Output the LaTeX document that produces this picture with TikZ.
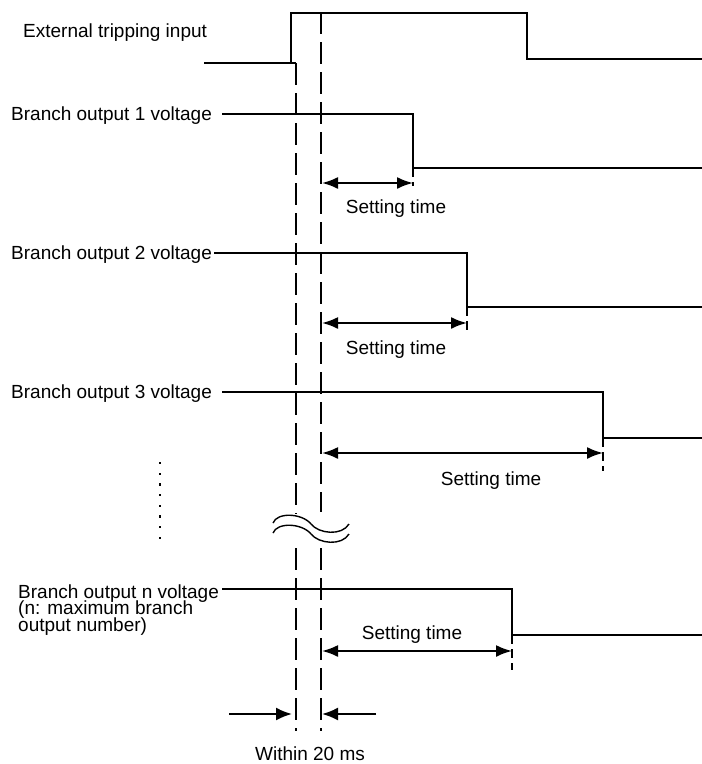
\documentclass[tikz,border=0pt]{standalone}
\usepackage{fontspec}
\setmainfont{Liberation Sans}
\usetikzlibrary{arrows.meta}
\tikzset{
  sig/.style={line width=1.4pt, line cap=butt, line join=miter},
  guide/.style={line width=1.5pt, dash pattern=on 22pt off 8pt},
  tickdash/.style={line width=1.4pt, dash pattern=on 9pt off 5pt},
  dim/.style={line width=2pt, {Latex[length=16pt,width=12pt]}-{Latex[length=16pt,width=12pt]}},
  dimr/.style={line width=2pt, -{Latex[length=16pt,width=13pt]}},
  lbl/.style={font=\fontsize{19}{20}\selectfont, inner sep=0pt, anchor=base west},
  clbl/.style={font=\fontsize{19}{20}\selectfont, inner sep=0pt, anchor=base},
}
\begin{document}
\begin{tikzpicture}[x=1pt,y=-1pt]
\useasboundingbox (0,0) rectangle (702,764);
% labels
\node[lbl] (ext) at (23,37.5) {External tripping input};
\node[lbl] (b1) at (11,120) {Branch output 1 voltage};
\node[lbl] (b2) at (11,259.5) {Branch output 2 voltage};
\node[lbl] (b3) at (11,398.5) {Branch output 3 voltage};
\node[lbl] (bnA) at (18,598) {Branch output n voltage};
\node[lbl] (bnB) at (18,614.8) {(n: maximum branch};
\node[lbl] (bnC) at (18,631.6) {output number)};
% external tripping input
\draw[sig] (204,63) -- (296,63);
\draw[sig] (291,63) -- (291,13) -- (527,13) -- (527,59) -- (702,59);
% branch 1
\draw[sig] (222,114) -- (413,114) -- (413,168) -- (702,168);
\draw[tickdash] (413,168) -- (413,186);
% branch 2
\draw[sig] (214,253) -- (467,253) -- (467,307) -- (702,307);
\draw[tickdash] (467,307) -- (467,334);
% branch 3
\draw[sig] (222,392) -- (603,392) -- (603,438) -- (702,438);
\draw[tickdash] (603,438) -- (603,471);
% branch n
\draw[sig] (222,589) -- (512,589) -- (512,635) -- (702,635);
\draw[tickdash] (512,635) -- (512,670);
% guide lines
\coordinate (g1a) at (296,63);
\coordinate (g1b) at (296,514);
\coordinate (g1c) at (296,548);
\coordinate (g1d) at (296,731);
\coordinate (g2a) at (321,12);
\coordinate (g2b) at (321,512);
\coordinate (g2c) at (321,548);
\coordinate (g2d) at (321,731);
\draw[guide] (g1a) -- (g1b);
\draw[guide] (g1c) -- (g1d);
\draw[guide] (g2a) -- (g2b);
\draw[guide] (g2c) -- (g2d);
% break symbol
\draw[line width=1.4pt] (273,523) .. controls (277,512) and (302,513) .. (311,524) .. controls (319,534) and (342,536) .. (349,524);
\draw[line width=1.4pt] (273,533) .. controls (277,522) and (302,523) .. (311,534) .. controls (319,544) and (342,546) .. (349,534);
% dots
\foreach \yy in {463,473.7,484.4,495.1,505.8,516.5,527.2,538}
  \fill (158.9,\yy-1.1) rectangle ++(2.2,2.2);
% setting time arrows
\coordinate (s1a) at (322,183); \coordinate (s1b) at (413,183);
\coordinate (s2a) at (322,323); \coordinate (s2b) at (467,323);
\coordinate (s3a) at (322,453); \coordinate (s3b) at (603,453);
\coordinate (s4a) at (322,651); \coordinate (s4b) at (512,651);
\draw[dim] (s1a) -- (s1b);
\draw[dim] (s2a) -- (s2b);
\draw[dim] (s3a) -- (s3b);
\draw[dim] (s4a) -- (s4b);
\node[clbl] (t1) at (396,213.5) {Setting time};
\node[clbl] (t2) at (396,354) {Setting time};
\node[clbl] (t3) at (491,485) {Setting time};
\node[clbl] (t4) at (412,639) {Setting time};
% within 20 ms
\coordinate (w1) at (229,714); \coordinate (w1t) at (292,714);
\coordinate (w2) at (376,714); \coordinate (w2t) at (322,714);
\draw[dimr] (w1) -- (w1t);
\draw[dimr] (w2) -- (w2t);
\node[clbl] (w) at (310,760) {Within 20 ms};
\end{tikzpicture}
\end{document}
